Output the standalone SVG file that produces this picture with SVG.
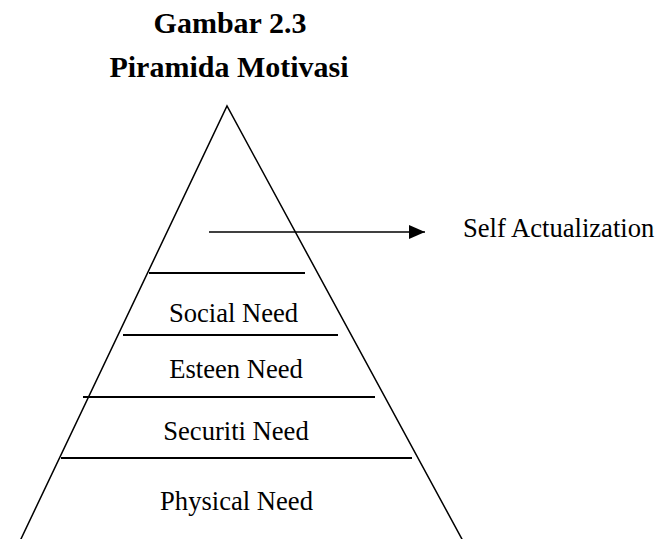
<svg xmlns="http://www.w3.org/2000/svg" width="658" height="539" viewBox="0 0 658 539">
  <style>
    .title { font-family: "Liberation Serif", "Times New Roman", serif; font-weight: bold; font-size: 30px; fill: #000; text-anchor: middle; }
    .label { font-family: "Liberation Serif", "Times New Roman", serif; font-size: 26.6px; fill: #000; text-anchor: middle; }
    .side { font-family: "Liberation Serif", "Times New Roman", serif; font-size: 26.6px; fill: #000; }
    .edge { stroke: #000; stroke-width: 1.5; fill: none; }
    .tier { stroke: #000; stroke-width: 2.2; fill: none; }
  </style>
  <defs>
    <marker id="head" viewBox="0 0 16 14" refX="16" refY="7" markerWidth="16" markerHeight="14" markerUnits="userSpaceOnUse" orient="auto">
      <path d="M0,0 L16,7 L0,14 Z" fill="#000"/>
    </marker>
  </defs>

  <g id="title">
    <text class="title" x="230" y="33">Gambar 2.3</text>
    <text class="title" x="229" y="77">Piramida Motivasi</text>
  </g>

  <g id="pyramid">
    <path class="edge" d="M20,541 L227,106 L463,541"/>
  </g>

  <g id="tier-dividers">
    <line class="tier" x1="149" y1="273" x2="305" y2="273"/>
    <line class="tier" x1="123" y1="335" x2="338" y2="335"/>
    <line class="tier" x1="83" y1="397" x2="375" y2="397"/>
    <line class="tier" x1="61" y1="458" x2="412" y2="458"/>
  </g>

  <g id="social-need"><text class="label" x="233.5" y="322">Social Need</text></g>
  <g id="esteen-need"><text class="label" x="236" y="378">Esteen Need</text></g>
  <g id="securiti-need"><text class="label" x="236" y="440">Securiti Need</text></g>
  <g id="physical-need"><text class="label" x="236.5" y="510">Physical Need</text></g>

  <g id="connectors">
    <line class="edge" x1="209" y1="232" x2="425" y2="232" marker-end="url(#head)"/>
  </g>

  <g id="self-actualization"><text class="side" x="463" y="237">Self Actualization</text></g>
</svg>
